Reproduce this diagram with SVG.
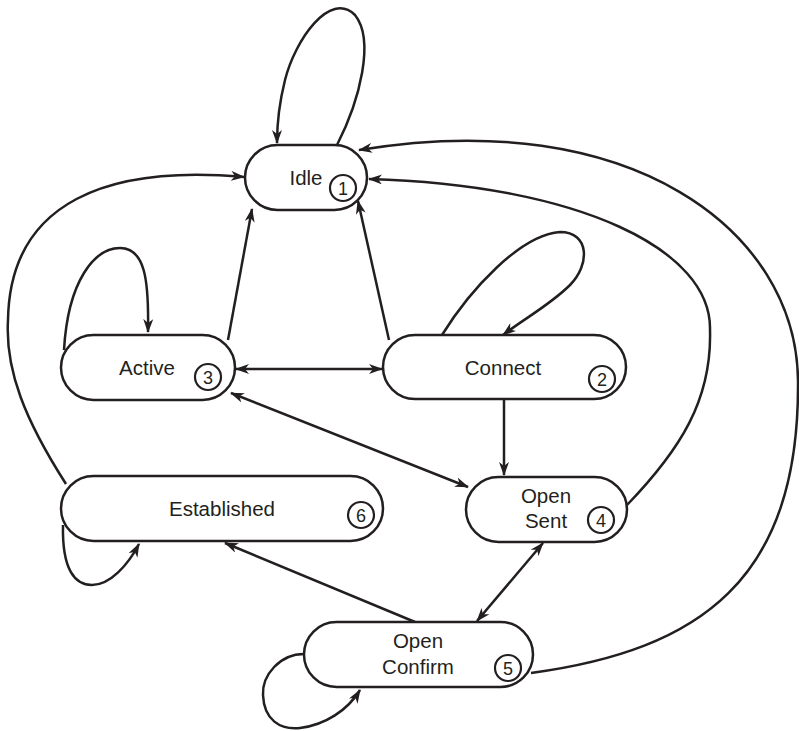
<svg xmlns="http://www.w3.org/2000/svg" width="799" height="731" viewBox="0 0 799 731">
<style>
.node rect{fill:#fff;stroke:#231f20;stroke-width:2.5}
.node circle{fill:#fff;stroke:#231f20;stroke-width:2.2}
.lbl{font-family:"Liberation Sans",Arial,sans-serif;font-size:20.5px;fill:#231f20;text-anchor:middle}
.num{font-family:"Liberation Sans",Arial,sans-serif;font-size:18px;fill:#231f20;text-anchor:middle}
#edges path,#edges line{fill:none;stroke:#231f20;stroke-width:2.5}
</style>
<defs>
<marker id="ah" viewBox="0 0 14 10" refX="13" refY="5" markerWidth="14" markerHeight="10" markerUnits="userSpaceOnUse" orient="auto-start-reverse">
<path d="M0,0 L14,5 L0,10 L4,5 z" fill="#231f20"/>
</marker>
</defs>
<rect width="799" height="731" fill="#fff"/>
<g id="edges">
<path d="M337,145 C360,100 375,40 355,15 C330,-10 295,40 285,80 C280,100 277,125 277,143" marker-end="url(#ah)"/>
<path d="M531,673 C700,650 800,580 798,380 C796,230 630,105 359,150" marker-end="url(#ah)"/>
<path d="M627,505 C680,450 712,400 710,330 C712,250 580,185 369,179" marker-end="url(#ah)"/>
<path d="M66,484 C25,420 5,370 8,320 C10,200 110,165 244,177" marker-end="url(#ah)"/>
<path d="M64,350 C68,280 95,248 120,248 C145,248 149,280 148,332" marker-end="url(#ah)"/>
<path d="M442,335 C470,290 520,235 560,232 C590,232 590,265 570,285 C550,305 525,318 503,335" marker-end="url(#ah)"/>
<path d="M63,525 C62,570 75,585 92,585 C110,585 128,565 139,544" marker-end="url(#ah)"/>
<path d="M304,654 C280,654 262,675 263,695 C264,720 280,730 300,728 C325,725 348,710 360,690" marker-end="url(#ah)"/>
<line x1="228" y1="340" x2="252" y2="209" marker-end="url(#ah)"/>
<line x1="389" y1="340" x2="358" y2="201" marker-end="url(#ah)"/>
<line x1="236" y1="369" x2="382" y2="369" marker-start="url(#ah)" marker-end="url(#ah)"/>
<line x1="231" y1="393" x2="468" y2="487" marker-start="url(#ah)" marker-end="url(#ah)"/>
<line x1="504" y1="399" x2="504" y2="475" marker-end="url(#ah)"/>
<line x1="543" y1="543" x2="477" y2="621" marker-start="url(#ah)" marker-end="url(#ah)"/>
<line x1="415" y1="622" x2="225" y2="543" marker-end="url(#ah)"/>
</g>
<g id="idle" class="node">
<rect x="245" y="145" width="122" height="65" rx="32.5"/>
<text class="lbl" x="306" y="185">Idle</text>
<circle cx="343" cy="188" r="13"/>
<text class="num" x="343" y="194.5">1</text>
</g>
<g id="active" class="node">
<rect x="61" y="335" width="174" height="65" rx="32.5"/>
<text class="lbl" x="147" y="375">Active</text>
<circle cx="208" cy="377" r="13"/>
<text class="num" x="208" y="383.5">3</text>
</g>
<g id="connect" class="node">
<rect x="383" y="335" width="243" height="64" rx="32"/>
<text class="lbl" x="503" y="375">Connect</text>
<circle cx="602" cy="379" r="13"/>
<text class="num" x="602" y="385.5">2</text>
</g>
<g id="established" class="node">
<rect x="61" y="476" width="322" height="65" rx="32.5"/>
<text class="lbl" x="222" y="516">Established</text>
<circle cx="361" cy="515" r="13"/>
<text class="num" x="361" y="521.5">6</text>
</g>
<g id="opensent" class="node">
<rect x="466" y="477" width="161" height="65" rx="32.5"/>
<text class="lbl" x="546" y="503">Open</text>
<text class="lbl" x="546" y="528">Sent</text>
<circle cx="601" cy="520" r="13"/>
<text class="num" x="601" y="526.5">4</text>
</g>
<g id="openconfirm" class="node">
<rect x="304" y="622" width="229" height="65" rx="32.5"/>
<text class="lbl" x="418" y="648">Open</text>
<text class="lbl" x="418" y="674">Confirm</text>
<circle cx="508" cy="668" r="13"/>
<text class="num" x="508" y="674.5">5</text>
</g>
</svg>
